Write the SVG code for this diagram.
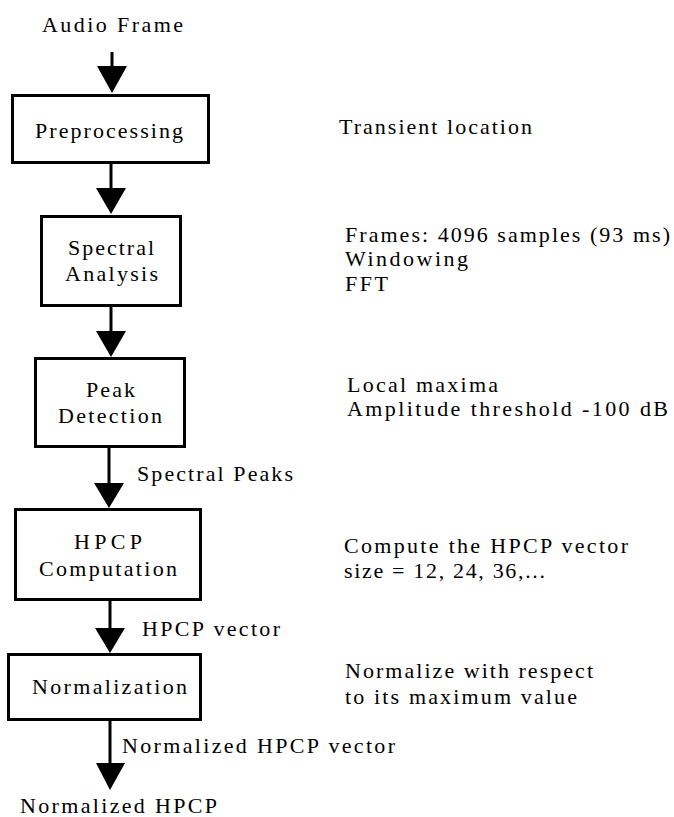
<svg xmlns="http://www.w3.org/2000/svg" width="674" height="817" viewBox="0 0 674 817">
  <defs>
    <style>
      .box { fill: #ffffff; stroke: #000000; stroke-width: 3; }
      .wire { stroke: #000000; stroke-width: 3; fill: none; }
      .head { fill: #000000; stroke: none; }
      .t { font-family: Liberation Serif, DejaVu Serif, Times New Roman, Times, serif; font-size: 22px; fill: #000000; }
    </style>
  </defs>
  <rect x="0" y="0" width="674" height="817" fill="#ffffff"/>

  <!-- flow arrows between stages -->
  <g id="connectors">
    <line class="wire" x1="112" y1="52" x2="112" y2="70"/>
    <polygon class="head" points="97,66 127,66 112,93"/>
    <line class="wire" x1="111" y1="164" x2="111" y2="192"/>
    <polygon class="head" points="96,188 126,188 111,214"/>
    <line class="wire" x1="111" y1="307" x2="111" y2="335"/>
    <polygon class="head" points="96,331 126,331 111,357"/>
    <line class="wire" x1="109" y1="448" x2="109" y2="487"/>
    <polygon class="head" points="94,483 124,483 109,508"/>
    <line class="wire" x1="110" y1="601" x2="110" y2="632"/>
    <polygon class="head" points="95,628 125,628 110,653"/>
    <line class="wire" x1="110" y1="721" x2="110" y2="767"/>
    <polygon class="head" points="96,763 125,763 110,790"/>
  </g>

  <g id="input">
    <text class="t" x="42" y="32" textLength="141">Audio Frame</text>
  </g>

  <g id="preprocessing">
    <rect class="box" x="12.5" y="95.5" width="196" height="67"/>
    <text class="t" x="35" y="138" textLength="148">Preprocessing</text>
  </g>
  <g id="preprocessing-note">
    <text class="t" x="339" y="134" textLength="193">Transient location</text>
  </g>

  <g id="spectral-analysis">
    <rect class="box" x="41.5" y="216.5" width="139" height="89"/>
    <text class="t" x="68" y="255" textLength="86">Spectral</text>
    <text class="t" x="65" y="281" textLength="93">Analysis</text>
  </g>
  <g id="spectral-analysis-note">
    <text class="t" x="345" y="242" textLength="325">Frames: 4096 samples (93 ms)</text>
    <text class="t" x="345" y="266" textLength="123">Windowing</text>
    <text class="t" x="345" y="291" textLength="43">FFT</text>
  </g>

  <g id="peak-detection">
    <rect class="box" x="35.5" y="358.5" width="149" height="88"/>
    <text class="t" x="86" y="397" textLength="49">Peak</text>
    <text class="t" x="58" y="423" textLength="104">Detection</text>
  </g>
  <g id="peak-detection-note">
    <text class="t" x="347" y="392" textLength="151">Local maxima</text>
    <text class="t" x="347" y="416" textLength="321">Amplitude threshold -100 dB</text>
  </g>
  <g id="label-spectral-peaks">
    <text class="t" x="137" y="481" textLength="156">Spectral Peaks</text>
  </g>

  <g id="hpcp-computation">
    <rect class="box" x="15.5" y="509.5" width="185" height="90"/>
    <text class="t" x="74" y="549" textLength="68">HPCP</text>
    <text class="t" x="39" y="576" textLength="138">Computation</text>
  </g>
  <g id="hpcp-computation-note">
    <text class="t" x="344" y="553" textLength="284">Compute the HPCP vector</text>
    <text class="t" x="344" y="578" textLength="201">size = 12, 24, 36,...</text>
  </g>
  <g id="label-hpcp-vector">
    <text class="t" x="142" y="636" textLength="138">HPCP vector</text>
  </g>

  <g id="normalization">
    <rect class="box" x="8.5" y="654.5" width="192" height="65"/>
    <text class="t" x="32" y="694" textLength="155">Normalization</text>
  </g>
  <g id="normalization-note">
    <text class="t" x="345" y="678" textLength="248">Normalize with respect</text>
    <text class="t" x="345" y="704" textLength="232">to its maximum value</text>
  </g>
  <g id="label-normalized-vector">
    <text class="t" x="122" y="753" textLength="273">Normalized HPCP vector</text>
  </g>

  <g id="output">
    <text class="t" x="20" y="813" textLength="197">Normalized HPCP</text>
  </g>
</svg>
